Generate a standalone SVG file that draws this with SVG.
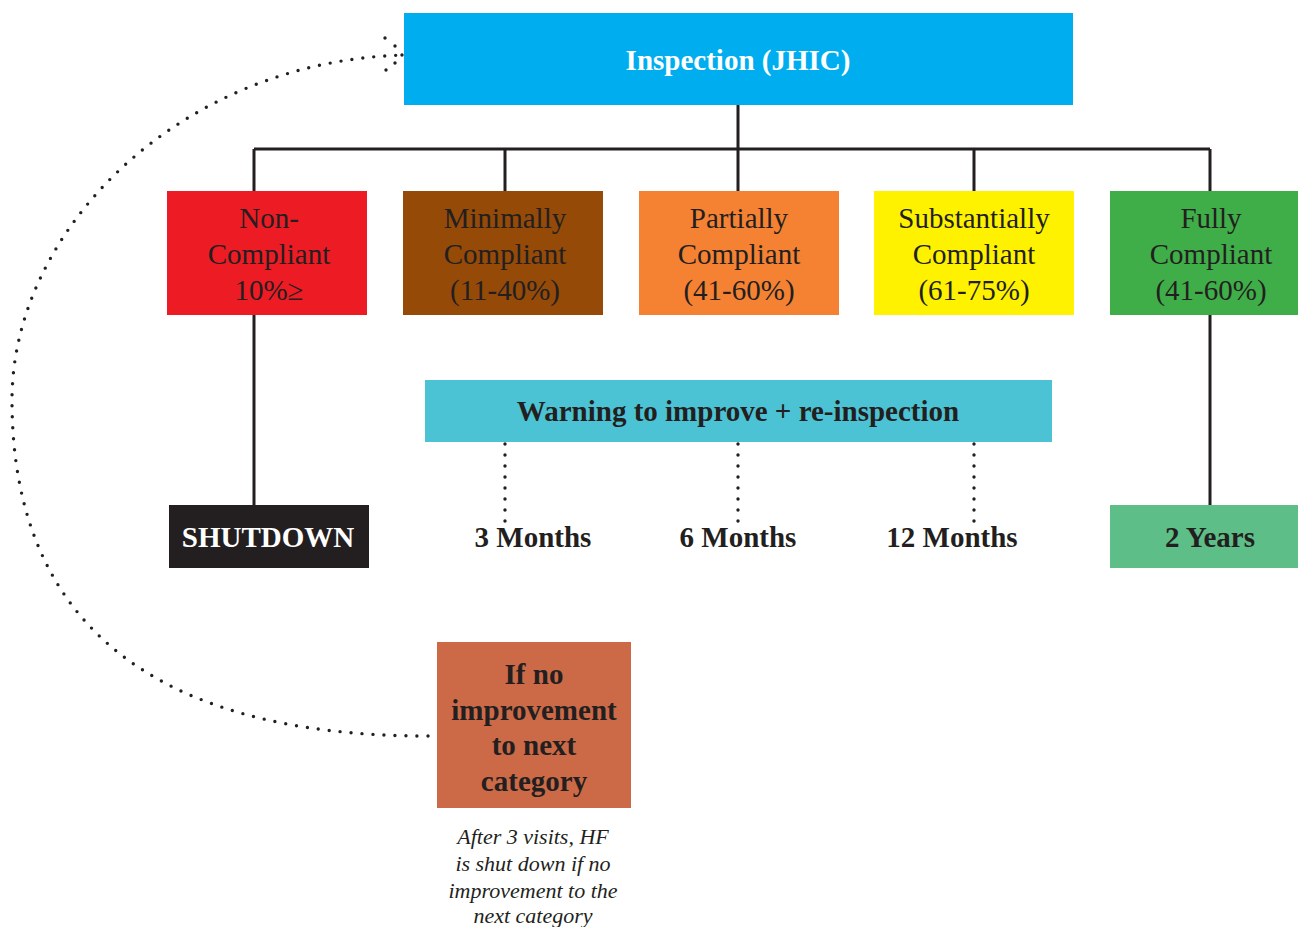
<svg xmlns="http://www.w3.org/2000/svg" width="1298" height="927" viewBox="0 0 1298 927">
<style>
.t{font-family:"Liberation Serif","Times New Roman",serif;font-size:29px;fill:#231F20;text-anchor:middle}
.b{font-weight:bold}
.w{fill:#FFFFFF}
.i{font-style:italic;font-size:22px}
.ln{stroke:#231F20;stroke-width:3;fill:none}
.dot{stroke:#231F20;stroke-width:3.4;fill:none;stroke-linecap:round;stroke-dasharray:0 11}
.ad{fill:#231F20}
</style>
<rect width="1298" height="927" fill="#FFFFFF"/>
<g id="connectors">
<path class="ln" d="M738,105 V149 M254,149 H1210 M254,149 V191 M505,149 V191 M738,149 V191 M974,149 V191 M1210,149 V191"/>
<path class="ln" d="M254,315 V505 M1210,315 V505"/>
<path class="dot" d="M505,444 V524 M738,444 V522 M974,444 V524"/>
<path class="dot" d="M428,736 C150,736 12,620 12,400 C12,230 180,60 406,55"/>
<g class="ad">
<circle cx="385" cy="38" r="1.7"/>
<circle cx="395" cy="46" r="1.7"/>
<circle cx="402" cy="55" r="1.7"/>
<circle cx="395" cy="63" r="1.7"/>
<circle cx="386" cy="70" r="1.7"/>
</g>
</g>
<g id="inspection">
<rect x="404" y="13" width="669" height="92" fill="#00AEEF"/>
<text class="t b w" x="738" y="70">Inspection (JHIC)</text>
</g>
<g id="non-compliant">
<rect x="167" y="191" width="200" height="124" fill="#ED1C24"/>
<text class="t" x="269" y="228">Non-</text>
<text class="t" x="269" y="264">Compliant</text>
<text class="t" x="269" y="300">10%≥</text>
</g>
<g id="minimally">
<rect x="403" y="191" width="200" height="124" fill="#954A08"/>
<text class="t" x="505" y="228">Minimally</text>
<text class="t" x="505" y="264">Compliant</text>
<text class="t" x="505" y="300">(11-40%)</text>
</g>
<g id="partially">
<rect x="639" y="191" width="200" height="124" fill="#F58233"/>
<text class="t" x="739" y="228">Partially</text>
<text class="t" x="739" y="264">Compliant</text>
<text class="t" x="739" y="300">(41-60%)</text>
</g>
<g id="substantially">
<rect x="874" y="191" width="200" height="124" fill="#FFF200"/>
<text class="t" x="974" y="228">Substantially</text>
<text class="t" x="974" y="264">Compliant</text>
<text class="t" x="974" y="300">(61-75%)</text>
</g>
<g id="fully">
<rect x="1110" y="191" width="188" height="124" fill="#3FAE49"/>
<text class="t" x="1211" y="228">Fully</text>
<text class="t" x="1211" y="264">Compliant</text>
<text class="t" x="1211" y="300">(41-60%)</text>
</g>
<g id="warning">
<rect x="425" y="380" width="627" height="62" fill="#4BC3D4"/>
<text class="t b" x="738" y="421">Warning to improve + re-inspection</text>
</g>
<g id="shutdown">
<rect x="169" y="505" width="200" height="63" fill="#231F20"/>
<text class="t b w" x="268" y="547">SHUTDOWN</text>
</g>
<g id="m3"><text class="t b" x="533" y="547">3 Months</text></g>
<g id="m6"><text class="t b" x="738" y="547">6 Months</text></g>
<g id="m12"><text class="t b" x="952" y="547">12 Months</text></g>
<g id="years2">
<rect x="1110" y="505" width="188" height="63" fill="#5DBF87"/>
<text class="t b" x="1210" y="547">2 Years</text>
</g>
<g id="no-improvement">
<rect x="437" y="642" width="194" height="166" fill="#CC6A47"/>
<text class="t b" x="534" y="684">If no</text>
<text class="t b" x="534" y="720">improvement</text>
<text class="t b" x="534" y="755">to next</text>
<text class="t b" x="534" y="791">category</text>
</g>
<g id="caption">
<text class="t i" x="533" y="844">After 3 visits, HF</text>
<text class="t i" x="533" y="871">is shut down if no</text>
<text class="t i" x="533" y="898">improvement to the</text>
<text class="t i" x="533" y="923">next category</text>
</g>
</svg>
